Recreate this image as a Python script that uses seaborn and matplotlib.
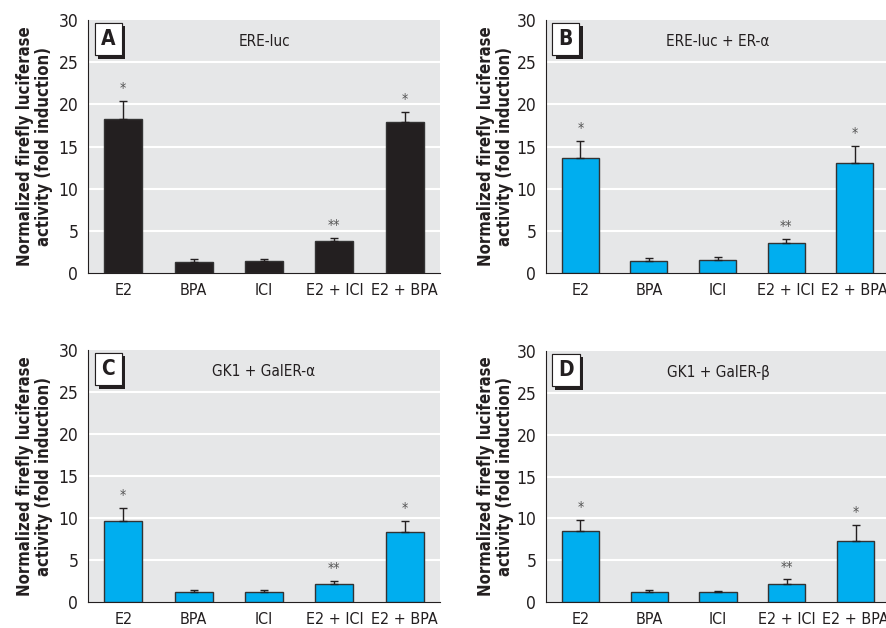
import numpy as np
import pandas as pd
import matplotlib
matplotlib.use('Agg')
import matplotlib.pyplot as plt
import matplotlib.patheffects as pe
from matplotlib import font_manager as fm
from matplotlib.ticker import MultipleLocator
import seaborn as sns

sns.set_style('white')
fonts = fm.fontManager.ttflist
names = {f.name for f in fonts}
cond = [f for f in fonts if 'ondensed' in f.fname or 'arrow' in f.fname]
if 'Liberation Sans Narrow' in names:
    plt.rcParams['font.family'] = ['Liberation Sans Narrow', 'DejaVu Sans']
elif cond:
    plt.rcParams['font.family'] = [cond[0].name, 'DejaVu Sans']
    plt.rcParams['font.stretch'] = 'condensed'
else:
    plt.rcParams['font.family'] = ['Liberation Sans', 'DejaVu Sans']

categories = ['E2', 'BPA', 'ICI', 'E2 + ICI', 'E2 + BPA']
stars = ['*', '', '', '**', '*']

a_mean = [18.3, 1.35, 1.4, 3.75, 17.9]
a_upper = [20.4, 1.65, 1.65, 4.2, 19.1]
b_mean = [13.6, 1.4, 1.5, 3.6, 13.0]
b_upper = [15.7, 1.75, 1.85, 4.0, 15.1]
c_mean = [9.6, 1.15, 1.2, 2.1, 8.3]
c_upper = [11.2, 1.4, 1.45, 2.5, 9.6]
d_mean = [8.5, 1.25, 1.15, 2.2, 7.3]
d_upper = [9.85, 1.45, 1.35, 2.7, 9.25]

panels = [
    ('A', 'ERE-luc', a_mean, a_upper, '#231f20'),
    ('B', 'ERE-luc + ER-\u03b1', b_mean, b_upper, '#00aeef'),
    ('C', 'GK1 + GalER-\u03b1', c_mean, c_upper, '#00aeef'),
    ('D', 'GK1 + GalER-\u03b2', d_mean, d_upper, '#00aeef'),
]

W, H = 887, 628
# axes rectangles in pixels: left, top, right, bottom
boxes = [(88, 20, 440, 273), (546, 20, 889, 273),
         (88, 350, 440, 602), (546, 351, 890, 602)]
ypads = [4, 2, 4, 2]

fig = plt.figure(figsize=(8.87, 6.28), dpi=100)
ylab = 'Normalized firefly luciferase\nactivity (fold induction)'

for (letter, title, mean, upper, color), (l, t, r, b), pad in zip(panels, boxes, ypads):
    ax = fig.add_axes([l / W, 1 - b / H, (r - l) / W, (b - t) / H])
    df = pd.DataFrame({'group': categories, 'value': mean})
    sns.barplot(data=df, x='group', y='value', ax=ax, color=color,
                saturation=1, width=0.54, edgecolor='#333333', linewidth=1,
                zorder=3)
    err = np.array(upper) - np.array(mean)
    ax.errorbar(range(len(categories)), mean, yerr=[np.zeros(len(err)), err],
                fmt='none', ecolor='#231f20', elinewidth=1, capsize=3,
                capthick=1, zorder=4)
    for i, s in enumerate(stars):
        if s:
            ax.text(i, upper[i] + 0.7, s, ha='center', va='bottom',
                    fontsize=10, color='#555555')
    ax.set_facecolor('#e6e7e8')
    ax.set_ylim(0, 30)
    ax.set_xlim(-0.5, 4.5)
    ax.yaxis.set_major_locator(MultipleLocator(5))
    ax.yaxis.set_minor_locator(MultipleLocator(2.5))
    ax.set_xticks(np.arange(-0.5, 5, 1), minor=True)
    for y in range(5, 30, 5):
        ax.axhline(y, color='white', lw=1.5, zorder=1)
    for side in ['top', 'right']:
        ax.spines[side].set_visible(False)
    ax.spines['left'].set_color('#231f20')
    ax.spines['bottom'].set_color('#231f20')
    ax.tick_params(axis='y', which='major', length=0, pad=7, labelsize=12.5,
                   labelcolor='#231f20')
    ax.tick_params(axis='y', which='minor', direction='in', length=3,
                   color='#231f20')
    ax.tick_params(axis='x', which='major', length=0, pad=7, labelsize=11.5,
                   labelcolor='#231f20')
    ax.tick_params(axis='x', which='minor', direction='out', length=2,
                   color='#999999')
    ax.set_xlabel('')
    ax.set_ylabel(ylab, fontsize=12, fontweight='bold', color='#231f20',
                  labelpad=pad, linespacing=1.05)
    ax.text(0.5, 0.915, title, transform=ax.transAxes, ha='center',
            va='center', fontsize=11, color='#231f20')
    t = ax.text(0.058, 0.925, letter, transform=ax.transAxes, ha='center',
                va='center', fontsize=15, fontweight='bold', color='#231f20',
                bbox=dict(boxstyle='square,pad=0.3', fc='white',
                          ec='#231f20', lw=0.8), zorder=6)
    t.get_bbox_patch().set_path_effects([
        pe.withSimplePatchShadow(offset=(2.5, -2.5), shadow_rgbFace='#231f20',
                                 alpha=1), pe.Normal()])

fig.savefig('out.png', dpi=100)
